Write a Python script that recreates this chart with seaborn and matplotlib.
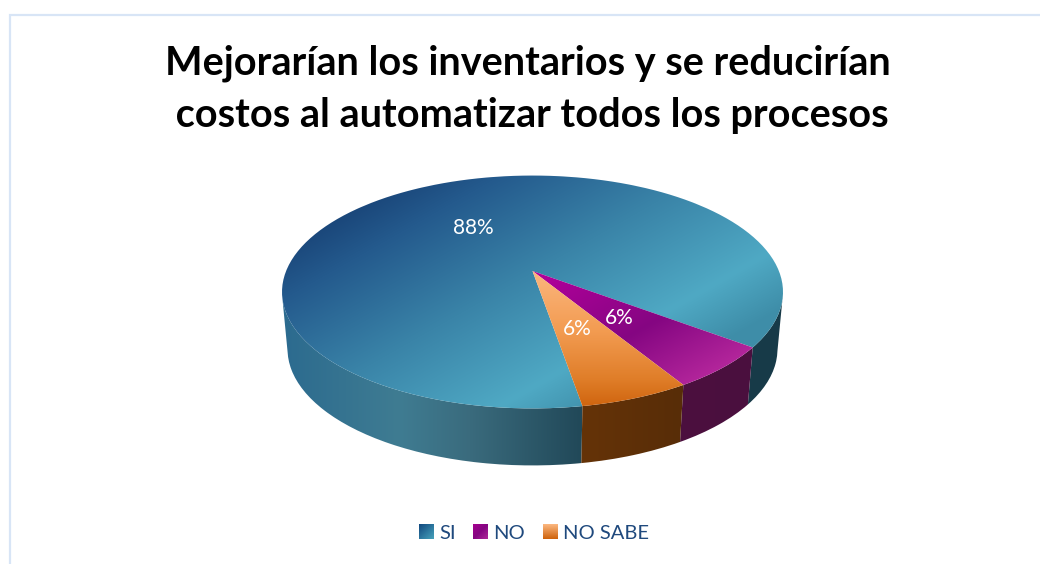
import numpy as np
import matplotlib
matplotlib.use("Agg")
import matplotlib.pyplot as plt
import seaborn as sns
from matplotlib.colors import to_rgb
from matplotlib.patches import Patch, PathPatch
from matplotlib.path import Path

categories = ["SI", "NO", "NO SABE"]
values = [88, 6, 6]
title_text = "Mejorarían los inventarios y se reducirían\n costos al automatizar todos los procesos"

sns.set_theme(style="white")
plt.rcParams["font.family"] = ["Lato", "DejaVu Sans"]
flat_colors = sns.color_palette(["#3a84a8", "#8f0a88", "#ef9544"])

W, H = 1040, 564
fig = plt.figure(figsize=(W / 100, H / 100), dpi=100, facecolor="white")
ax = fig.add_axes([0, 0, 1, 1])

wedges, _, autotexts = ax.pie(values, startangle=-80.4, counterclock=False, radius=1,
                              autopct="%1.0f%%", textprops={"color": "white", "fontsize": 15})

CX, CY, A, B = 532.5, 292.0, 250.5, 116.5
K, S, T, SX = 0.18, 0.967, 0.18, 0.9836


def project(xy):
    """Tilted-disc perspective: unit pie coordinates to page pixels."""
    w = 1 + K * xy[:, 1]
    xp = SX * xy[:, 0] / w
    yp = S * xy[:, 1] / w + T
    return np.column_stack([CX + A * xp, CY - B * yp])


def wedge_polygon(wedge):
    p = wedge.get_path()
    big = Path(p.vertices * 600, p.codes)
    return big.to_polygons(closed_only=False)[0] / 600


yy, xx = np.mgrid[0:H, 0:W] + 0.5


def ramp(t, stops):
    pos = [s[0] for s in stops]
    cols = np.array([to_rgb(s[1]) for s in stops])
    return np.dstack([np.interp(t, pos, cols[:, i]) for i in range(3)])


def fill(poly, rgb, z):
    im = ax.imshow(rgb, extent=(0, W, H, 0), origin="upper", aspect="auto",
                   interpolation="bilinear", zorder=z)
    patch = PathPatch(Path(np.vstack([poly, poly[:1]])), transform=ax.transData)
    im.set_clip_path(patch)


diag = 0.494 * xx + 0.869 * yy
top_rgb = [
    ramp(diag, [(328, "#143a6e"), (400, "#245a8d"), (500, "#3a84a8"), (600, "#4fa9c4"), (655, "#3e8da8")]),
    ramp(diag, [(498, "#b4009c"), (603, "#850682"), (673, "#b1249a")]),
    ramp(yy, [(271, "#fbb67e"), (330, "#f39c52"), (380, "#df7d28"), (407, "#cf640e")]),
]
wall_rgb = [
    ramp(xx, [(285, "#2c6b8f"), (400, "#3f7c92"), (470, "#3a6b7d"), (583, "#214858"),
              (745, "#173a48"), (790, "#173a48")]),
    ramp(xx, [(680, "#4c0f3e"), (750, "#4a0f3f")]),
    ramp(xx, [(583, "#653307"), (680, "#582d08")]),
]

DEPTH, SHRINK = 57.0, 0.978
for wedge, top, wall in zip(wedges, top_rgb, wall_rgb):
    unit = wedge_polygon(wedge)
    wedge.remove()
    rim = unit[np.isclose(np.hypot(unit[:, 0], unit[:, 1]), 1.0, atol=1e-3)]
    front = project(rim)
    keep = rim[:, 1] < -0.18
    pts = front[keep]
    pts = pts[np.argsort(pts[:, 0])]
    lower = np.column_stack([CX + (pts[:, 0] - CX) * SHRINK, pts[:, 1] + DEPTH])
    if wedge is wedges[0]:
        for part in (pts[:, 0] < 590, pts[:, 0] > 740):
            a, b = pts[part], lower[part]
            fill(np.vstack([a, b[::-1]]), wall, 2)
    else:
        fill(np.vstack([pts, lower[::-1]]), wall, 2)
    fill(project(unit), top, 3)

for txt, pos in zip(autotexts, [(473, 228), (619, 318), (577, 329)]):
    txt.set_position(pos)
    txt.set_ha("center")
    txt.set_va("center")
    txt.set_zorder(8)

ax.set_aspect("auto")
ax.set_xlim(0, W)
ax.set_ylim(H, 0)
ax.set_frame_on(False)
ax.set_xticks([])
ax.set_yticks([])

ax.plot([9.5, 9.5, W], [H, 14.5, 14.5], color="#d8e5f6", lw=1.6, solid_joinstyle="miter", zorder=1)

ax.set_title(title_text, x=527.5 / W, y=1 - 97.5 / H, va="center", ha="center",
             fontsize=28.5, fontweight="bold", color="black", linespacing=1.5)

handles = [Patch(facecolor=c, label=n) for c, n in zip(flat_colors, categories)]
leg = ax.legend(handles=handles, ncol=3, loc="center", bbox_to_anchor=(534, 533),
                bbox_transform=ax.transData, frameon=False, fontsize=14.5, borderpad=0,
                handlelength=0.72, handleheight=0.7, handletextpad=0.28, columnspacing=0.88,
                labelcolor="#1f497d")

fig.canvas.draw()
corner_colors = [("#124a80", "#45a0ba"), ("#a5008f", "#ad2898"), ("#fbb67e", "#cf640e")]
inv = ax.transData.inverted()
for patch, (c0, c1), kind in zip(leg.get_patches(), corner_colors, ["d", "d", "v"]):
    bb = patch.get_window_extent().transformed(inv)
    v, u = np.mgrid[0:16, 0:16] / 15
    t = (u + v) / 2 if kind == "d" else v
    if c0 == "#a5008f":
        sq = ramp(t, [(0, "#a5008f"), (0.5, "#850682"), (1, "#ad2898")])
    else:
        sq = ramp(t, [(0, c0), (1, c1)])
    ax.imshow(sq, extent=(bb.x0, bb.x1, max(bb.y0, bb.y1), min(bb.y0, bb.y1)),
              origin="upper", aspect="auto", interpolation="bilinear", zorder=7)
ax.set_xlim(0, W)
ax.set_ylim(H, 0)

fig.savefig("out.png", dpi=100, facecolor="white")
